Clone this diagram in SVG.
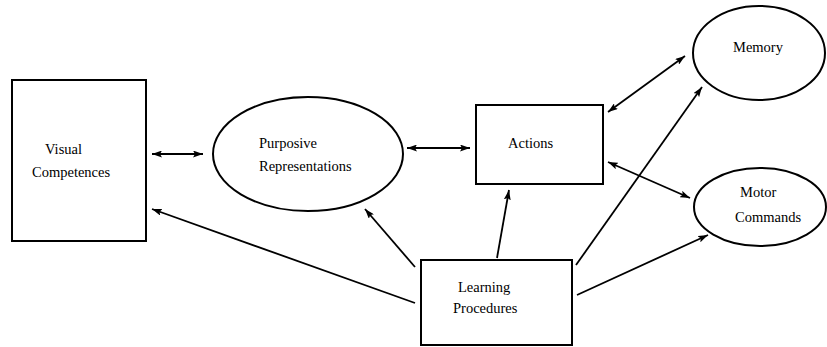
<svg xmlns="http://www.w3.org/2000/svg" width="827" height="347" viewBox="0 0 827 347">
<style>
.n{fill:#fff;stroke:#000;stroke-width:2}
.t{font-family:"Liberation Serif","Times New Roman",serif;font-size:14.5px;fill:#000}
.c{stroke:#000;stroke-width:1.8;fill:none}
</style>
<defs>
<marker id="ah" viewBox="0 0 10 7" refX="10" refY="3.5" markerWidth="10" markerHeight="7" markerUnits="userSpaceOnUse" orient="auto-start-reverse">
<path d="M0,0 L10,3.5 L0,7 L2,3.5 z" fill="#000"/>
</marker>
</defs>
<g id="visual-competences">
<rect class="n" x="12" y="80" width="134" height="161"/>
<text class="t" x="45" y="154">Visual</text>
<text class="t" x="32" y="177">Competences</text>
</g>
<g id="purposive-representations">
<ellipse class="n" cx="308" cy="154" rx="95" ry="57"/>
<text class="t" x="259" y="148">Purposive</text>
<text class="t" x="259" y="171">Representations</text>
</g>
<g id="actions">
<rect class="n" x="476" y="105" width="127" height="79"/>
<text class="t" x="508" y="148">Actions</text>
</g>
<g id="memory">
<ellipse class="n" cx="759" cy="53" rx="66" ry="47"/>
<text class="t" x="733" y="52">Memory</text>
</g>
<g id="motor-commands">
<ellipse class="n" cx="760" cy="207" rx="66" ry="39"/>
<text class="t" x="740" y="197">Motor</text>
<text class="t" x="735" y="222">Commands</text>
</g>
<g id="learning-procedures">
<rect class="n" x="421" y="260" width="151" height="85"/>
<text class="t" x="458" y="292">Learning</text>
<text class="t" x="453" y="313">Procedures</text>
</g>
<g id="connectors">
<line class="c" x1="152" y1="154" x2="203" y2="154" marker-start="url(#ah)" marker-end="url(#ah)"/>
<line class="c" x1="407" y1="148" x2="470" y2="148" marker-start="url(#ah)" marker-end="url(#ah)"/>
<line class="c" x1="608" y1="112" x2="685" y2="56" marker-start="url(#ah)" marker-end="url(#ah)"/>
<line class="c" x1="608" y1="162" x2="690" y2="198" marker-start="url(#ah)" marker-end="url(#ah)"/>
<line class="c" x1="415" y1="303" x2="152" y2="209" marker-end="url(#ah)"/>
<line class="c" x1="415" y1="267" x2="365" y2="209" marker-end="url(#ah)"/>
<line class="c" x1="497" y1="258" x2="509" y2="190" marker-end="url(#ah)"/>
<line class="c" x1="576" y1="265" x2="702" y2="87" marker-end="url(#ah)"/>
<line class="c" x1="577" y1="295" x2="708" y2="235" marker-end="url(#ah)"/>
</g>
</svg>
